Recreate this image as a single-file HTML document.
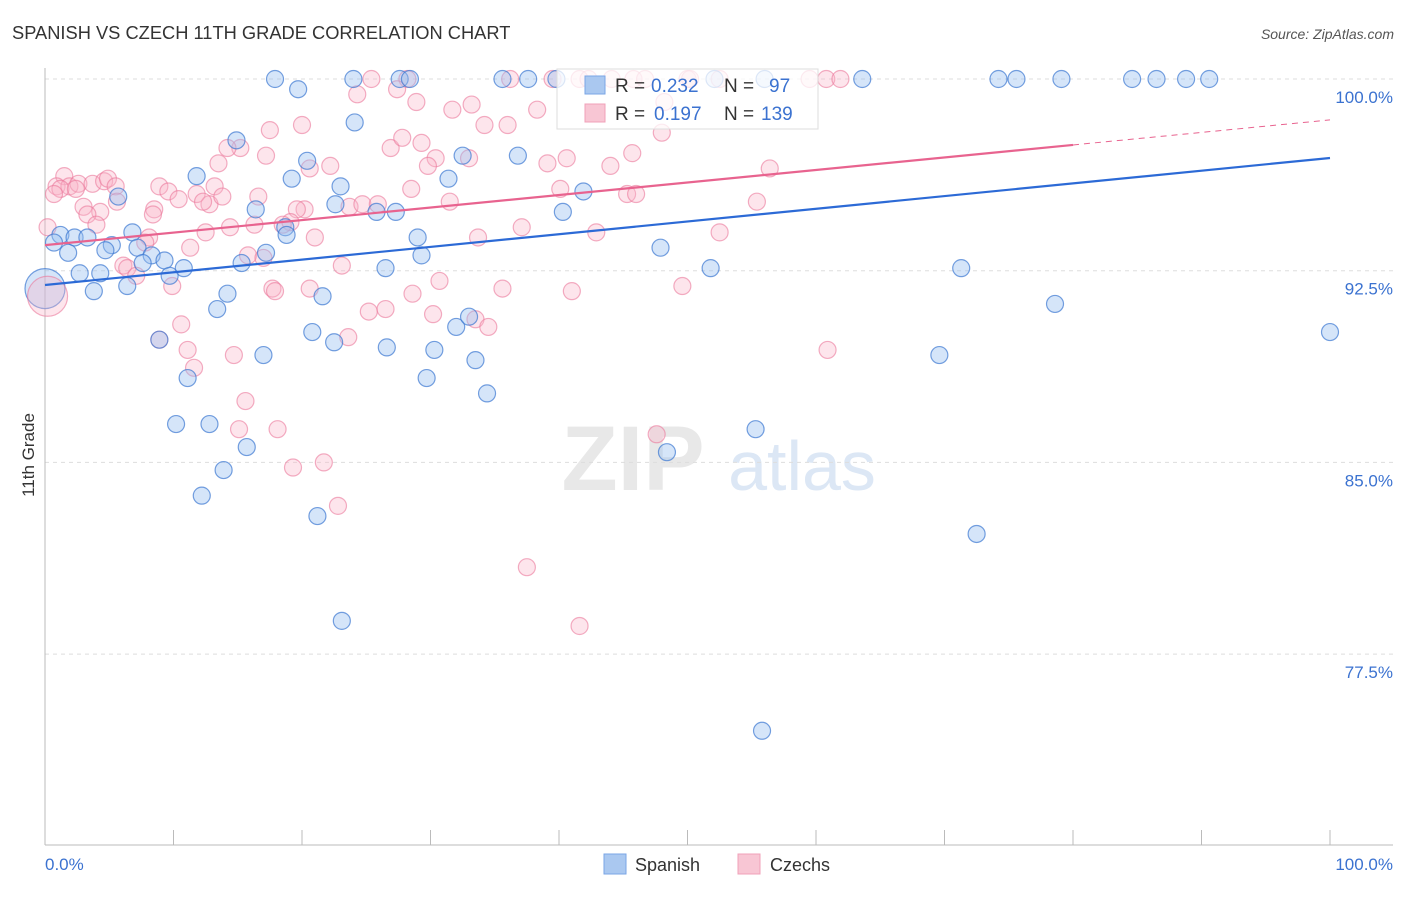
<!DOCTYPE html>
<html><head><meta charset="utf-8"><style>
body{margin:0;background:#fff;font-family:"Liberation Sans",sans-serif;}
svg text{font-family:"Liberation Sans",sans-serif;}
</style></head><body>
<svg id="chart" width="1406" height="892" xmlns="http://www.w3.org/2000/svg">
<text x="12" y="39" font-size="18.3" fill="#333">SPANISH VS CZECH 11TH GRADE CORRELATION CHART</text>
<text x="1394" y="39" font-size="14" fill="#555" font-style="italic" text-anchor="end">Source: ZipAtlas.com</text>
<g>
<text x="633" y="490" font-size="92" fill="#e8e8e8" font-family="Liberation Serif" text-anchor="middle" font-weight="bold">ZIP</text>
<text x="802" y="490" font-size="70" fill="#dce7f5" text-anchor="middle">atlas</text>
</g>
<g id="grid"></g>
<g id="axes"></g>
<g id="points"></g>
<g id="lines"></g>
<text transform="translate(34,455) rotate(-90)" font-size="17" fill="#333" text-anchor="middle">11th Grade</text>
<text x="45" y="870" font-size="17" fill="#3b72d0">0.0%</text>
<text x="1393" y="870" font-size="17" fill="#3b72d0" text-anchor="end">100.0%</text>
<g>
<rect x="557" y="69" width="261" height="60" fill="rgba(255,255,255,0.75)" stroke="#ddd"/>
<rect x="585" y="76" width="20" height="18" fill="#aac8f0" stroke="#7aa6e6"/>
<text x="615" y="92" font-size="19" fill="#333">R = </text><text x="651" y="92" font-size="19" fill="#3b72d0">0.232</text>
<text x="724" y="92" font-size="19" fill="#333">N = </text><text x="769" y="92" font-size="19" fill="#3b72d0">97</text>
<rect x="585" y="104" width="20" height="18" fill="#f8c6d4" stroke="#f0a0b8"/>
<text x="615" y="120" font-size="19" fill="#333">R = </text><text x="654" y="120" font-size="19" fill="#3b72d0">0.197</text>
<text x="724" y="120" font-size="19" fill="#333">N = </text><text x="761" y="120" font-size="19" fill="#3b72d0">139</text>
</g>
<g>
<rect x="604" y="854" width="22" height="20" fill="#aac8f0" stroke="#7aa6e6"/>
<text x="635" y="871" font-size="18" fill="#333">Spanish</text>
<rect x="738" y="854" width="22" height="20" fill="#f8c6d4" stroke="#f0a0b8"/>
<text x="770" y="871" font-size="18" fill="#333">Czechs</text>
</g>
</svg>
<script>
const yTicks=[100,92.5,85,77.5];
const yTickLabels=["100.0%","92.5%","85.0%","77.5%"];
const spanishX=[17.9,19.7,24.0,27.6,28.4,35.6,37.6,39.8,52.1,56.0,63.6,74.2,75.6,79.1,84.6,86.5,88.8,90.6,14.9,20.4,32.5,36.8,11.8,19.2,23.0,31.4,41.9,5.7,24.1,22.6,16.4,25.8,27.3,40.3,18.7,18.8,17.2,1.2,2.3,3.3,6.8,0.7,5.2,4.7,7.2,1.8,8.3,9.3,7.6,10.8,15.3,26.5,29.0,29.3,47.9,51.8,71.3,2.7,4.3,9.7,3.8,6.4,14.2,13.4,21.6,20.8,22.5,17.0,26.6,30.3,32.0,33.0,33.5,11.1,29.7,34.4,8.9,69.6,78.6,100,10.2,12.8,55.3,15.7,48.4,13.9,12.2,21.2,72.5,23.1,55.8];
const spanishY=[100,99.6,100,100,100,100,100,100,100,100,100,100,100,100,100,100,100,100,97.6,96.8,97.0,97.0,96.2,96.1,95.8,96.1,95.6,95.4,98.3,95.1,94.9,94.8,94.8,94.8,94.2,93.9,93.2,93.9,93.8,93.8,94.0,93.6,93.5,93.3,93.4,93.2,93.1,92.9,92.8,92.6,92.8,92.6,93.8,93.1,93.4,92.6,92.6,92.4,92.4,92.3,91.7,91.9,91.6,91.0,91.5,90.1,89.7,89.2,89.5,89.4,90.3,90.7,89.0,88.3,88.3,87.7,89.8,89.2,91.2,90.1,86.5,86.5,86.3,85.6,85.4,84.7,83.7,82.9,82.2,78.8,74.5];
const czechX=[25.4,28.2,36.2,39.5,41.6,42.3,44.1,45.8,46.7,50.0,50.2,52.5,59.5,60.8,61.9,24.3,27.4,28.9,31.7,33.2,38.3,48.2,34.2,36.0,20.0,17.5,15.2,14.2,26.9,29.3,27.8,30.4,45.7,48.0,40.6,39.1,44.0,29.8,33.0,22.2,17.2,13.5,20.6,56.4,1.5,0.9,1.9,1.2,2.6,3.7,4.6,4.9,5.5,2.4,0.7,8.9,9.6,10.4,11.8,12.8,12.3,13.2,13.8,16.6,28.5,40.1,45.3,46.0,55.4,5.6,3.0,4.3,8.5,8.4,3.3,4.0,20.2,19.6,19.1,23.7,24.7,25.9,31.5,37.1,42.9,52.5,0.2,8.1,7.8,11.3,12.5,14.4,16.3,18.5,21.0,33.7,23.1,15.8,17.0,6.1,6.4,7.1,9.9,17.7,20.6,17.9,28.6,30.7,35.6,41.0,49.6,10.6,25.2,26.5,30.2,33.5,34.5,23.6,8.9,11.1,14.7,11.6,60.9,15.6,15.1,18.1,47.6,19.3,21.7,22.8,37.5,41.6];
const czechY=[100,100,100,100,100,100,100,100,100,100,100,100,100,100,100,99.4,99.6,99.1,98.8,99.0,98.8,99.1,98.2,98.2,98.2,98.0,97.3,97.3,97.3,97.5,97.7,96.9,97.1,97.9,96.9,96.7,96.6,96.6,96.9,96.6,97.0,96.7,96.5,96.5,96.2,95.8,95.8,95.7,95.9,95.9,96.0,96.1,95.8,95.7,95.5,95.8,95.6,95.3,95.5,95.1,95.2,95.8,95.4,95.4,95.7,95.7,95.5,95.5,95.2,95.2,95.0,94.8,94.9,94.7,94.7,94.3,94.9,94.9,94.4,95.0,95.1,95.1,95.2,94.2,94.0,94.0,94.2,93.8,93.6,93.4,94.0,94.2,94.3,94.3,93.8,93.8,92.7,93.1,93.0,92.7,92.6,92.3,91.9,91.8,91.8,91.7,91.6,92.1,91.8,91.7,91.9,90.4,90.9,91.0,90.8,90.6,90.3,89.9,89.8,89.4,89.2,88.7,89.4,87.4,86.3,86.3,86.1,84.8,85.0,83.3,80.9,78.6];
const bigPoints=[{s:"spanish",x:0,y:91.8},{s:"czech",x:0.2,y:91.5}];
const spanishTrend=[91.94,96.91];
const czechTrend=[93.5,98.4];
const czechSolidEnd=80;

const X0=45,X1=1330,Y100=79,PX_PER_PCT=25.56;
const xs=v=>X0+(X1-X0)*v/100;
const ys=v=>Y100+(100-v)*PX_PER_PCT;
const NS="http://www.w3.org/2000/svg";
function mk(tag,attrs,parent){const e=document.createElementNS(NS,tag);for(const k in attrs)e.setAttribute(k,attrs[k]);parent.appendChild(e);return e;}
const grid=document.getElementById('grid'),axes=document.getElementById('axes'),pts=document.getElementById('points'),lines=document.getElementById('lines');
yTicks.forEach((t,i)=>{
 const l=mk('line',{x1:X0,x2:1393,y1:ys(t),y2:ys(t),stroke:'#ddd','stroke-dasharray':'4,4'},grid);
 
 
 const tx=mk('text',{x:1393,y:ys(t)+24,'font-size':17,fill:'#3b72d0','text-anchor':'end'},grid);
 tx.textContent=yTickLabels[i];
 
 
});
const ax=mk('line',{x1:X0,x2:1393,y1:845,y2:845,stroke:'#bbb'},axes);


const ay=mk('line',{x1:X0,x2:X0,y1:68,y2:845,stroke:'#bbb'},axes);


for(let i=1;i<=10;i++){const t=mk('line',{x1:xs(i*10),x2:xs(i*10),y1:830,y2:845,stroke:'#bbb'},axes);
 
 }
function dot(x,y,cls,r){
 const blue=cls==='spanish';
 const c=mk('circle',{cx:xs(x),cy:ys(y),r:r,fill:blue?'rgba(150,190,240,0.4)':'rgba(248,180,200,0.35)',stroke:blue?'rgba(60,120,210,0.7)':'rgba(235,120,155,0.6)','stroke-width':1.2},pts);
 
 
}
czechX.forEach((x,i)=>dot(x,czechY[i],'czech',8.5));
spanishX.forEach((x,i)=>dot(x,spanishY[i],'spanish',8.5));
bigPoints.forEach(p=>dot(p.x,p.y,p.s,20));
const bl=mk('line',{x1:xs(0),y1:ys(spanishTrend[0]),x2:xs(100),y2:ys(spanishTrend[1]),stroke:'#2c6ad6','stroke-width':2.2},lines);


const cAt=v=>czechTrend[0]+(czechTrend[1]-czechTrend[0])*v/100;
const pl=mk('line',{x1:xs(0),y1:ys(cAt(0)),x2:xs(czechSolidEnd),y2:ys(cAt(czechSolidEnd)),stroke:'#e8638f','stroke-width':2.2},lines);


const pd=mk('line',{x1:xs(czechSolidEnd),y1:ys(cAt(czechSolidEnd)),x2:xs(100),y2:ys(cAt(100)),stroke:'#e8638f','stroke-width':1,'stroke-dasharray':'6,5'},lines);


</script>
</body></html>
